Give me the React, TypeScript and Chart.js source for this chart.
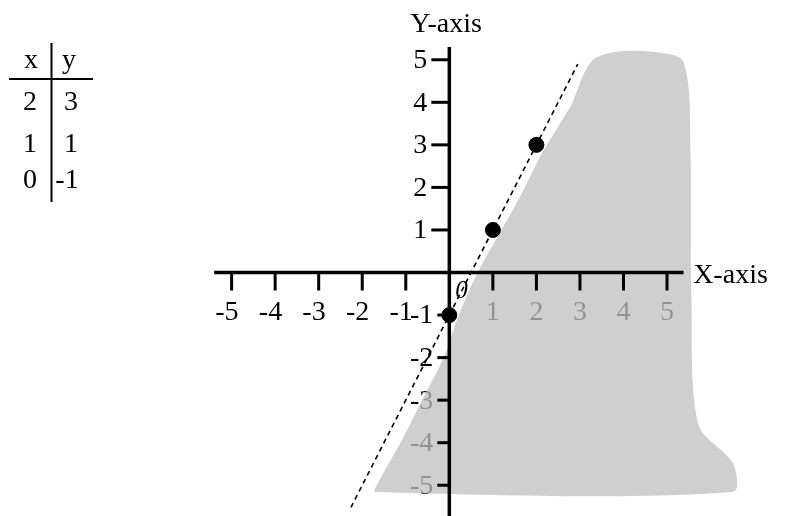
import React, { useEffect, useRef } from 'react';
import { Chart, registerables } from 'chart.js';

Chart.register(...registerables);

// table of values
const tableX = [2, 1, 0];
const tableY = [3, 1, -1];

// axis tick labels
const xTickValues = [-5, -4, -3, -2, -1, 1, 2, 3, 4, 5];
const yTickValues = [5, 4, 3, 2, 1, -1, -2, -3, -4, -5];

// dashed boundary line y = 2x - 1 (two end points)
const lineX = [-2.45, 2.95];
const lineY = [-5.9, 4.9];

// shaded region outline
const shadeX = [2.8, 3.25, 3.81, 4.71, 5.38, 5.54, 5.56, 5.72, 6.51, 6.51, -1.7, -1.63, -1.13, -0.57, -0.12, 0.21, 0.66, 1.56, 2.12];
const shadeY = [3.93, 4.95, 5.18, 5.18, 4.95, 2.8, -0.61, -3.57, -4.48, -5.16, -5.16, -4.93, -4.02, -2.89, -1.98, -1.02, 0.02, 1.66, 2.8];

const FONT = '28px "Liberation Serif", "Times New Roman", serif';

const axesPlugin = {
  id: 'customAxes',
  beforeDatasetsDraw(chart: any) {
    const ctx = chart.ctx;
    const xs = chart.scales.x;
    const ys = chart.scales.y;
    const ox = xs.getPixelForValue(0);
    const oy = ys.getPixelForValue(0);
    ctx.save();
    ctx.fillStyle = '#000';
    ctx.font = FONT;
    // x tick labels
    ctx.textAlign = 'right';
    ctx.textBaseline = 'alphabetic';
    xTickValues.forEach((v) => {
      const px = xs.getPixelForValue(v);
      ctx.fillText(String(v), px + 7, oy + 47);
    });
    // zero label
    ctx.textAlign = 'left';
    ctx.font = 'italic 25px "Liberation Serif", "Times New Roman", serif';
    ctx.fillText('0', ox + 6, oy + 25);
    ctx.font = FONT;
    // y tick labels
    ctx.textAlign = 'right';
    ctx.textBaseline = 'middle';
    yTickValues.forEach((v) => {
      const py = ys.getPixelForValue(v);
      ctx.fillText(String(v), v > 0 ? ox - 22 : ox - 16, py + 1);
    });
    ctx.restore();
  },
  afterDatasetsDraw(chart: any) {
    const ctx = chart.ctx;
    const xs = chart.scales.x;
    const ys = chart.scales.y;
    const ox = xs.getPixelForValue(0);
    const oy = ys.getPixelForValue(0);
    ctx.save();
    ctx.strokeStyle = '#000';
    ctx.lineWidth = 3.5;
    ctx.beginPath();
    ctx.moveTo(xs.getPixelForValue(-5.4), oy);
    ctx.lineTo(xs.getPixelForValue(5.38), oy);
    ctx.stroke();
    ctx.beginPath();
    ctx.moveTo(ox, ys.getPixelForValue(5.3));
    ctx.lineTo(ox, chart.height);
    ctx.stroke();
    ctx.lineWidth = 3;
    xTickValues.forEach((v) => {
      const px = xs.getPixelForValue(v);
      ctx.beginPath();
      ctx.moveTo(px, oy);
      ctx.lineTo(px, oy + 18);
      ctx.stroke();
    });
    yTickValues.forEach((v) => {
      const py = ys.getPixelForValue(v);
      ctx.beginPath();
      ctx.moveTo(ox, py);
      ctx.lineTo(ox - (v > 0 ? 18 : 12), py);
      ctx.stroke();
    });
    ctx.restore();
  },
  afterDraw(chart: any) {
    const ctx = chart.ctx;
    const xs = chart.scales.x;
    const ys = chart.scales.y;
    const ox = xs.getPixelForValue(0);
    const oy = ys.getPixelForValue(0);
    ctx.save();
    ctx.fillStyle = '#000';
    ctx.font = FONT;
    ctx.textBaseline = 'alphabetic';
    ctx.textAlign = 'left';
    ctx.fillText('Y-axis', ox - 39, 32);
    ctx.fillText('X-axis', xs.getPixelForValue(5.6), oy + 10);
    // table
    ctx.strokeStyle = '#000';
    ctx.lineWidth = 2;
    ctx.beginPath();
    ctx.moveTo(9, 79);
    ctx.lineTo(93, 79);
    ctx.stroke();
    ctx.beginPath();
    ctx.moveTo(51.5, 43);
    ctx.lineTo(51.5, 202);
    ctx.stroke();
    ctx.textAlign = 'center';
    ctx.fillText('x', 31, 68);
    ctx.fillText('y', 69, 68);
    const baselines = [110, 152, 188];
    tableX.forEach((v, i) => {
      ctx.fillText(String(v), 30, baselines[i]);
      ctx.fillText(String(tableY[i]), tableY[i] < 0 ? 67 : 71, baselines[i]);
    });
    ctx.restore();
  },
};

export default function App() {
  const ref = useRef<HTMLCanvasElement>(null);
  useEffect(() => {
    if (!ref.current) return;
    const chart = new Chart(ref.current, {
      type: 'scatter',
      data: {
        datasets: [
          {
            label: 'points',
            data: tableX.map((x, i) => ({ x, y: tableY[i] })),
            pointRadius: 7.5,
            pointBackgroundColor: '#000',
            pointBorderColor: '#000',
            showLine: false,
            order: 1,
          },
          {
            label: 'line',
            data: lineX.map((x, i) => ({ x, y: lineY[i] })),
            showLine: true,
            borderColor: '#000',
            borderWidth: 1.6,
            borderDash: [5, 4],
            pointRadius: 0,
            fill: false,
            order: 2,
          },
          {
            label: 'shade',
            data: shadeX.map((x, i) => ({ x, y: shadeY[i] })),
            showLine: true,
            borderWidth: 0,
            borderColor: 'rgba(0,0,0,0)',
            backgroundColor: 'rgba(192,192,192,0.76)',
            pointRadius: 0,
            fill: 'shape',
            tension: 0.3,
            order: 10,
          } as any,
        ],
      },
      options: {
        animation: false,
        responsive: false,
        devicePixelRatio: 1,
        layout: { padding: 0 },
        plugins: { legend: { display: false }, tooltip: { enabled: false } },
        scales: {
          x: { type: 'linear', min: -10.124, max: 7.629, display: false },
          y: { type: 'linear', min: -5.523, max: 6.205, display: false },
        },
      },
      plugins: [axesPlugin],
    });
    return () => chart.destroy();
  }, []);
  return (
    <div style={{ position: 'absolute', left: 0, top: 0, width: 790, height: 516, background: '#fff' }}>
      <canvas ref={ref} width={790} height={516} style={{ display: 'block' }} />
    </div>
  );
}
